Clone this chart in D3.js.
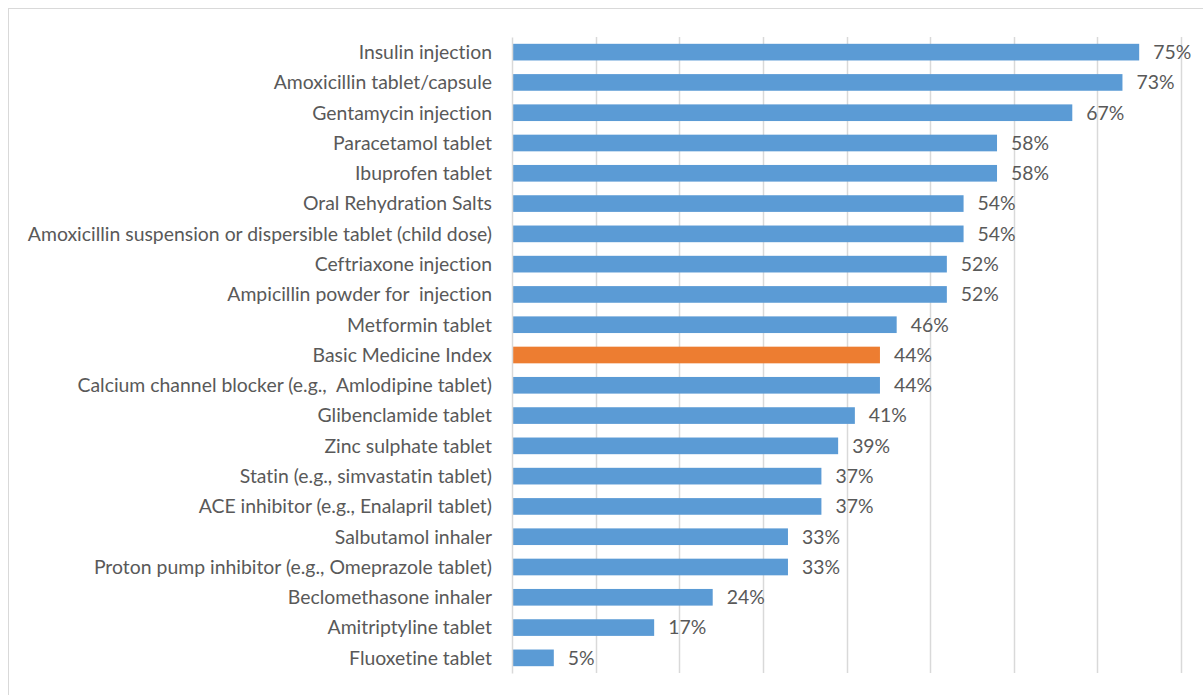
<!DOCTYPE html>
<html>
<head>
<meta charset="utf-8">
<script src="https://cdn.jsdelivr.net/npm/d3@7"></script>
<style>
  html, body { margin: 0; padding: 0; background: #fff; }
  svg { display: block; }
  .cat, .val { font-family: Lato, "Open Sans", sans-serif; fill: #595959; font-variant-ligatures: none; white-space: pre; }
</style>
</head>
<body>
<svg id="chart" width="1203" height="695"></svg>
<script>
// Availability of basic medicines, share of facilities (%)
const categories = [
  "Insulin injection",
  "Amoxicillin tablet/capsule",
  "Gentamycin injection",
  "Paracetamol tablet",
  "Ibuprofen tablet",
  "Oral Rehydration Salts",
  "Amoxicillin suspension or dispersible tablet (child dose)",
  "Ceftriaxone injection",
  "Ampicillin powder for  injection",
  "Metformin tablet",
  "Basic Medicine Index",
  "Calcium channel blocker (e.g.,  Amlodipine tablet)",
  "Glibenclamide tablet",
  "Zinc sulphate tablet",
  "Statin (e.g., simvastatin tablet)",
  "ACE inhibitor (e.g., Enalapril tablet)",
  "Salbutamol inhaler",
  "Proton pump inhibitor (e.g., Omeprazole tablet)",
  "Beclomethasone inhaler",
  "Amitriptyline tablet",
  "Fluoxetine tablet"
];
const values = [75, 73, 67, 58, 58, 54, 54, 52, 52, 46, 44, 44, 41, 39, 37, 37, 33, 33, 24, 17, 5];
const highlighted = ["Basic Medicine Index"];
const xTicks = [0, 10, 20, 30, 40, 50, 60, 70, 80];

const svg = d3.select("#chart");

// outer chart frame
svg.append("rect")
  .attr("x", 8.5).attr("y", 8.5)
  .attr("width", 1210).attr("height", 700)
  .attr("fill", "none").attr("stroke", "#d9d9d9").attr("stroke-width", 1);

const plot = { left: 512, right: 1181, top: 37, bottom: 673 };

const x = d3.scaleLinear().domain([0, 80]).range([plot.left, plot.right]);
const y = d3.scaleBand().domain(categories).range([plot.top, plot.bottom]).paddingInner(0.45).paddingOuter(0.225);

// vertical gridlines
svg.append("g")
  .selectAll("line")
  .data(xTicks.slice(1))
  .join("line")
  .attr("x1", d => Math.round(x(d)) + 0.5)
  .attr("x2", d => Math.round(x(d)) + 0.5)
  .attr("y1", plot.top).attr("y2", plot.bottom)
  .attr("stroke", "#d9d9d9").attr("stroke-width", 1.5);

// bars
svg.append("g")
  .selectAll("rect")
  .data(categories)
  .join("rect")
  .attr("x", x(0) + 1)
  .attr("y", d => y(d))
  .attr("width", (d, i) => x(values[i]) - x(0) - 1)
  .attr("height", y.bandwidth())
  .attr("fill", d => highlighted.includes(d) ? "#ed7d31" : "#5b9bd5");

// category axis line with labels
const yAxis = d3.axisLeft(y).tickSize(0).tickPadding(20);
const gy = svg.append("g").attr("transform", `translate(${plot.left},0)`).call(yAxis);
gy.select(".domain").attr("stroke", "#d9d9d9").attr("stroke-width", 1.5);
gy.selectAll("text")
  .attr("class", "cat")
  .attr("font-size", 19.4)
  .attr("dy", "0.35em")
  .style("font-family", null);

// value labels
svg.append("g")
  .selectAll("text")
  .data(categories)
  .join("text")
  .attr("class", "val")
  .attr("x", (d, i) => x(values[i]) + 14)
  .attr("y", d => y(d) + y.bandwidth() / 2)
  .attr("dy", "0.35em")
  .attr("font-size", 19.4)
  .text((d, i) => values[i] + "%");
</script>
</body>
</html>
